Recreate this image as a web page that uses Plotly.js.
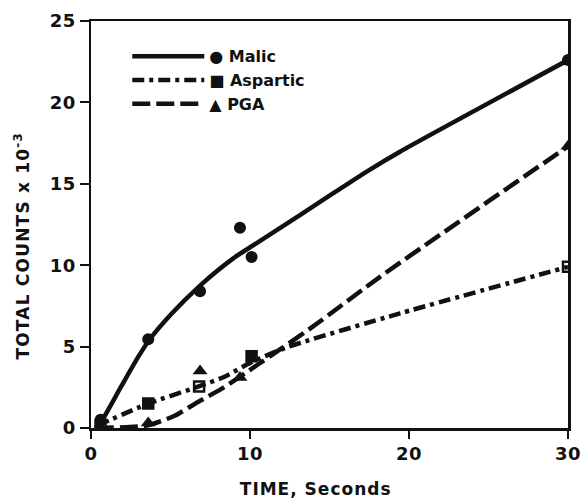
<!DOCTYPE html>
<html><head><meta charset="utf-8">
<script src="https://cdn.plot.ly/plotly-3.0.1.min.js"></script>
<style>
html,body{margin:0;padding:0;background:#fff}#chart{width:582px;height:501px}
.xtitle{letter-spacing:1px}
.ytitle{letter-spacing:1.2px}
.xtick text,.ytick text{letter-spacing:0.5px}
</style>
</head><body><div id="chart"></div>
<script>
// Measured points
const malicX = [0.6, 3.6, 6.86, 9.37, 10.1, 30];
const malicY = [0.5, 5.45, 8.4, 12.3, 10.5, 22.6];
const aspX = [0.6, 3.6, 6.8, 10.1, 30];
const aspY = [0.15, 1.5, 2.55, 4.4, 9.9];
const pgaX = [0.6, 3.6, 6.86, 9.37, 30];
const pgaY = [0.05, 0.3, 3.5, 3.1, 17.3];
// Hand-drawn fitted curves
const malicCurveX = [0.3, 0.65, 1.9, 2.96, 3.7, 5.05, 6.86, 8.95, 11.05, 13.14, 15.24, 17.34, 19.43, 30];
const malicCurveY = [0, 0.4, 2.55, 4.35, 5.45, 7.0, 8.75, 10.42, 11.75, 13.08, 14.42, 15.75, 16.97, 22.6];
const aspCurveX = [0.4, 3.48, 6.73, 8.4, 10, 12.3, 19.43, 30];
const aspCurveY = [0.15, 1.45, 2.54, 3.15, 4.0, 4.95, 7.04, 9.9];
const pgaCurveX = [0.3, 3.5, 5.26, 6.73, 8.2, 10.5, 12, 14.1, 18.2, 30];
const pgaCurveY = [0, 0.15, 0.75, 1.6, 2.4, 3.9, 4.9, 6.33, 9.3, 17.3];
const seriesNames = ['● Malic', '■ Aspartic', '▲ PGA'];
const xTicks = [0, 10, 20, 30];
const yTicks = [0, 5, 10, 15, 20, 25];

const aspSymbols = ['square-open', 'square', 'square-open', 'square', 'square-open'];
const ink = '#111';
const font = 'DejaVu Sans, Liberation Sans, sans-serif';
const pad = n => '&nbsp;'.repeat(n);

const traces = [
  {x: malicCurveX, y: malicCurveY, mode: 'lines', name: seriesNames[0],
   line: {color: ink, width: 4.5, shape: 'spline', smoothing: 0.6}},
  {x: aspCurveX, y: aspCurveY, mode: 'lines', name: seriesNames[1],
   line: {color: ink, width: 4.5, shape: 'spline', smoothing: 0.6, dash: '12px,5px,4px,5px'}},
  {x: pgaCurveX, y: pgaCurveY, mode: 'lines', name: seriesNames[2],
   line: {color: ink, width: 4.5, shape: 'spline', smoothing: 0.6, dash: '18px,6px'}},
  {x: malicX, y: malicY, mode: 'markers', showlegend: false,
   marker: {symbol: 'circle', size: 12, color: ink}},
  {x: aspX, y: aspY, mode: 'markers', showlegend: false,
   marker: {symbol: aspSymbols, size: 10, color: ink, line: {color: ink, width: 2.5}}},
  {x: pgaX, y: pgaY, mode: 'markers', showlegend: false,
   marker: {symbol: 'triangle-up', size: 13, color: ink}}
];

const layout = {
  width: 582, height: 501,
  margin: {l: 91, r: 14, t: 21, b: 73},
  paper_bgcolor: '#fff', plot_bgcolor: '#fff',
  font: {family: font, color: ink},
  showlegend: true,
  legend: {x: 0.076, y: 0.955, xanchor: 'left', yanchor: 'top', bgcolor: 'rgba(0,0,0,0)',
           font: {family: font, size: 16, weight: 'bold', color: ink}, itemwidth: 72,
           tracegroupgap: 0},
  xaxis: {range: [0, 30], tickvals: xTicks, ticks: 'outside', ticklen: 8, tickwidth: 2,
          tickcolor: ink, showline: true, linecolor: ink, linewidth: 2.5, mirror: true,
          showgrid: false, zeroline: false,
          tickfont: {family: font, size: 18, weight: 'bold', color: ink},
          title: {text: 'TIME, Seconds' + pad(4), standoff: 20,
                  font: {family: font, size: 17, weight: 'bold', color: ink}}},
  yaxis: {range: [0, 25], tickvals: yTicks, ticks: 'outside', ticklen: 9, tickwidth: 2,
          tickcolor: ink, showline: true, linecolor: ink, linewidth: 2.5, mirror: true,
          showgrid: false, zeroline: false,
          tickfont: {family: font, size: 18, weight: 'bold', color: ink},
          title: {text: 'TOTAL COUNTS x 10<sup>-3</sup>' + pad(6), standoff: 16,
                  font: {family: font, size: 17, weight: 'bold', color: ink}}}
};
Plotly.newPlot('chart', traces, layout, {displayModeBar: false, staticPlot: true});
</script>
</body></html>
